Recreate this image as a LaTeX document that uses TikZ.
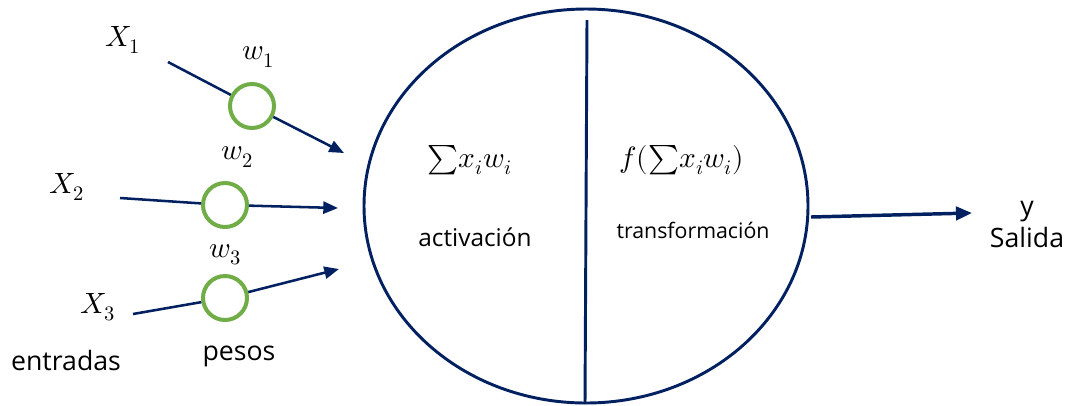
\documentclass[tikz,border=0pt]{standalone}
\usepackage{fontspec}
\usepackage{unicode-math}
\setmainfont{Open Sans}
\setmathfont{Latin Modern Math}
\usetikzlibrary{shapes.geometric,arrows.meta}
\definecolor{navy}{HTML}{002060}
\definecolor{wgreen}{HTML}{70AD47}
\begin{document}
\begin{tikzpicture}[x=0.75pt,y=-0.75pt,
  conn/.style={draw=navy,line width=1.9pt},
  arr/.style={conn,-{Triangle[length=11pt,width=9pt]}},
  weight/.style={circle,draw=wgreen,line width=3pt,minimum size=33pt,inner sep=0pt},
  lbl/.style={inner sep=0pt,font=\fontsize{20}{24}\selectfont},
  albl/.style={inner sep=0pt,font=\fontsize{18.3}{22}\selectfont},
  slbl/.style={inner sep=0pt,font=\fontsize{16}{20}\selectfont},
  mlbl/.style={inner sep=0pt,font=\fontsize{22}{26}\selectfont},
]
\useasboundingbox (0,0) rectangle (1070,405);

% neuron
\node[ellipse,draw=navy,line width=2.2pt,
      minimum width=333pt,minimum height=295.5pt,inner sep=0pt] (neuron) at (586,206) {};
\coordinate (divtop) at (587,20);
\coordinate (divbot) at (585,404);
\draw[navy,line width=2.2pt] (divtop) -- (divbot);

% weights
\node[weight] (w1c) at (252,106) {};
\node[weight] (w2c) at (225,205) {};
\node[weight] (w3c) at (225,298) {};

% input line ends
\coordinate (s1) at (168,62);
\coordinate (t1) at (344,153);
\coordinate (s2) at (120,198);
\coordinate (t2) at (338,208);
\coordinate (s3) at (133,314);
\coordinate (t3) at (339,269);

\draw[conn] (s1) -- (w1c);
\draw[arr] (w1c) -- (t1);
\draw[conn] (s2) -- (w2c);
\draw[arr] (w2c) -- (t2);
\draw[conn] (s3) -- (w3c);
\draw[arr] (w3c) -- (t3);

% output
\coordinate (o1) at (811,217);
\coordinate (o2) at (972,213);
\draw[navy,line width=2.6pt,-{Triangle[length=12pt,width=10pt]}] (o1) -- (o2);

% labels
\node[mlbl] (x1) at (123,40) {$X_1$};
\node[mlbl] (x2) at (67,187) {$X_2$};
\node[mlbl] (x3) at (98,307) {$X_3$};
\node[mlbl] (lw1) at (258,57) {$w_1$};
\node[mlbl] (lw2) at (237,157) {$w_2$};
\node[mlbl] (lw3) at (225,255) {$w_3$};
\node[mlbl] (sum) at (470,160) {${\sum}x_i w_i$};
\node[mlbl] (fsum) at (682,160) {$f({\sum}x_i w_i)$};
\node[albl] (act) at (475,237) {activación};
\node[slbl] (trans) at (693,230) {transformación};
\node[lbl] (entr) at (66,360) {entradas};
\node[lbl] (pesos) at (239,356) {pesos};
\node[lbl,align=center] (out) at (1027,224) {y\\Salida};
\end{tikzpicture}
\end{document}
